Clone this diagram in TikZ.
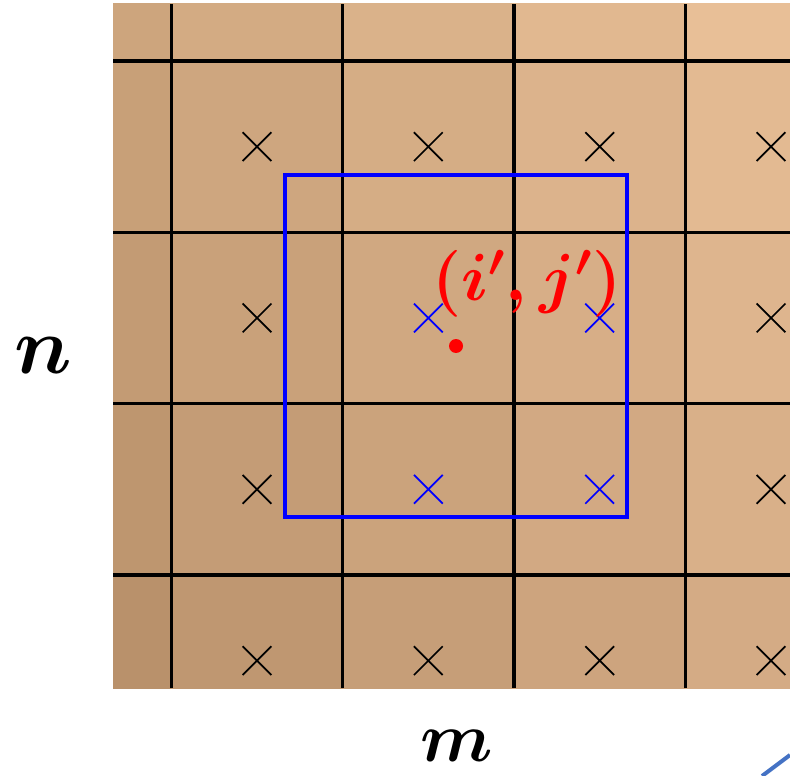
\RequirePackage{fix-cm}
\documentclass[tikz,border=0pt]{standalone}
\usepackage{xcolor}
\usepackage{tikz}
\usetikzlibrary{shapes.misc, positioning}

\definecolor{window}{RGB}{0,0,255}
\definecolor{ptred}{RGB}{255,0,0}
\definecolor{extline}{RGB}{68,114,196}

\begin{document}
\begin{tikzpicture}[
  x=0.02cm, y=-0.02cm,
  gridline/.style={line width=1.8pt},
  xmark/.style={cross out, draw, minimum size=0.54cm, inner sep=0pt, line width=1pt},
  axislabel/.style={font=\fontsize{46}{50}\selectfont\boldmath, inner sep=0pt}
]
\useasboundingbox (0,0) rectangle (790,776);

% cells, lighter towards the top right
\begin{scope}
  \clip (113,4) rectangle (790,688);
  \foreach \c in {0,...,4}
    \foreach \r in {0,...,4} {
      \pgfmathtruncatemacro\R{205+6.75*\c-5*\r}
      \pgfmathtruncatemacro\G{165+6.5*\c-5*\r}
      \pgfmathtruncatemacro\B{125+6.5*\c-4.5*\r}
      \definecolor{cellcol}{RGB}{\R,\G,\B}
      \fill[cellcol] (\c*171.33,\r*171.33-110.33) rectangle +(171.33,171.33);
    }
  \foreach \i in {1,...,4} {
    \draw[gridline] (\i*171.33,4) -- (\i*171.33,688);
    \draw[gridline] (113,\i*171.33-110.33) -- (790,\i*171.33-110.33);
  }
\end{scope}

% sample points
\foreach \c in {1,...,4}
  \foreach \r in {1,...,4} {
    \pgfmathtruncatemacro\inwin{and(or(\c==2,\c==3),or(\r==2,\r==3))}
    \ifnum\inwin=1 \def\xcol{window}\else\def\xcol{black}\fi
    \node[xmark, draw=\xcol] (x\c\r) at (\c*171.33+85.67,\r*171.33-24.67) {};
  }

\node[circle, fill=ptred, inner sep=0pt, minimum size=0.28cm] (pt) at (456,346) {};
\node[draw=window, line width=1.8pt, minimum size=6.84cm, inner sep=0pt] (win) at (pt) {};
\node[ptred, font=\fontsize{38}{42}\selectfont\boldmath, inner sep=0pt] (ptlabel) at (527,284) {$(i',j')$};

\node[axislabel] (nlabel) at (43,356) {$n$};
\node[axislabel, font=\fontsize{40}{44}\selectfont\boldmath] (mlabel) at (457,746) {$m$};

\coordinate (e1) at (762,776);
\coordinate (e2) at (790,755);
\draw[extline, line width=0.08cm] (e1) -- (e2);
\end{tikzpicture}
\end{document}
